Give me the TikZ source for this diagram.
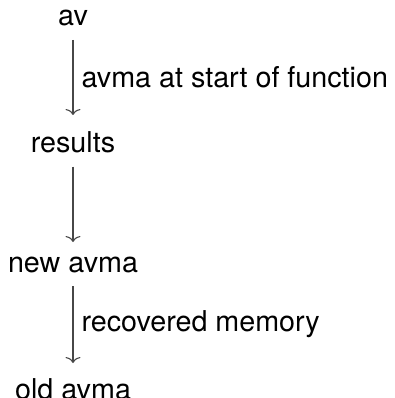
\documentclass[tikz,border=0pt]{standalone}
\usepackage{fontspec}
\setmainfont{TeX Gyre Heros}
\usetikzlibrary{arrows.meta}
\begin{document}
\begin{tikzpicture}[x=1pt,y=-1pt,
  obj/.style={inner sep=0pt, anchor=base, font=\fontsize{28.7}{34}\selectfont},
  map/.style={line width=1.1pt, draw=black!72,
    -{Computer Modern Rightarrow[length=6pt, width=15pt]}},
  maplabel/.style={anchor=west, inner ysep=0pt, inner xsep=8pt, text=black,
    font=\fontsize{28.7}{34}\selectfont}]
\useasboundingbox (0,0) rectangle (394,398);
% objects of the chain, placed on their baselines
\node[obj] (av)      at (73,26)    {av};
\node[obj] (results) at (73,152.5) {results};
\node[obj] (newavma) at (73,272)   {new avma};
\node[obj] (oldavma) at (73,399)   {old avma};
% vertical maps
\draw[map] ([yshift=-14pt]av.base) --
  node[maplabel] {avma at start of function} ([yshift=37.5pt]results.base);
\draw[map] ([yshift=-14pt]results.base) -- ([yshift=30pt]newavma.base);
\draw[map] ([yshift=-14pt]newavma.base) --
  node[maplabel] {recovered memory} ([yshift=36pt]oldavma.base);
\end{tikzpicture}
\end{document}
